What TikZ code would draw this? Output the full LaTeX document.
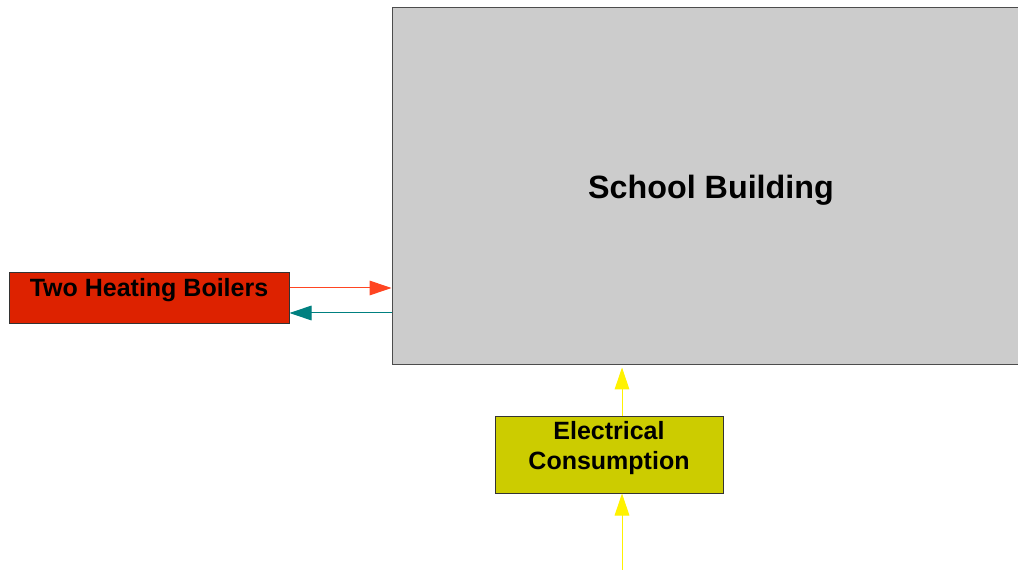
\documentclass[tikz,border=0pt]{standalone}
\usepackage{fontspec}
\setmainfont{Liberation Sans}
\usetikzlibrary{arrows.meta, positioning, calc}
\definecolor{buildgray}{RGB}{204, 204, 204}
\definecolor{boilerred}{RGB}{221, 34, 0}
\definecolor{elecyellow}{RGB}{204, 204, 0}
\definecolor{heatorange}{RGB}{255, 69, 34}
\definecolor{returnteal}{RGB}{0, 128, 128}

\begin{document}
\begin{tikzpicture}[
  x=0.75pt, y=-0.75pt,
  box/.style={rectangle, draw=black!80, line width=0.75pt, inner sep=0pt, align=center, font=\bfseries\fontsize{18.75}{21.75}\selectfont},
  flow/.style={-{Triangle[length=16.5pt, width=11pt]}, line width=0.75pt}
]
  \clip (0, 0) rectangle (1018, 570);
  \useasboundingbox (0, 0) rectangle (1018, 570);

  \node[box, fill=buildgray, draw=black!70, minimum width=478.5pt, minimum height=267.75pt, text height=18pt, text depth=0pt, font=\bfseries\fontsize{24.2}{28}\selectfont] (building) at (711, 186.5) {School Building};
  \node[box, fill=boilerred, minimum width=210pt, text height=18pt, text depth=20.25pt] (boilers) at (149, 298.5) {Two Heating Boilers};
  \node[box, fill=elecyellow, minimum width=171pt, text height=39.75pt, text depth=18pt] (elec) at (609, 454.5) {Electrical\\Consumption};
  \coordinate (grid) at (622, 570);

  \draw[flow, heatorange] ([yshift=7.875pt]boilers.east) -- ([yshift=7.875pt]boilers.east -| building.west);
  \draw[flow, returnteal] ([yshift=-10.875pt]boilers.east -| building.west) -- ([yshift=-10.875pt]boilers.east);
  \draw[flow, yellow] ([xshift=9.75pt]elec.north) -- ([xshift=9.75pt, yshift=-1.5pt]elec.north |- building.south);
  \draw[flow, yellow] (grid) -- (grid |- elec.south);
\end{tikzpicture}
\end{document}
